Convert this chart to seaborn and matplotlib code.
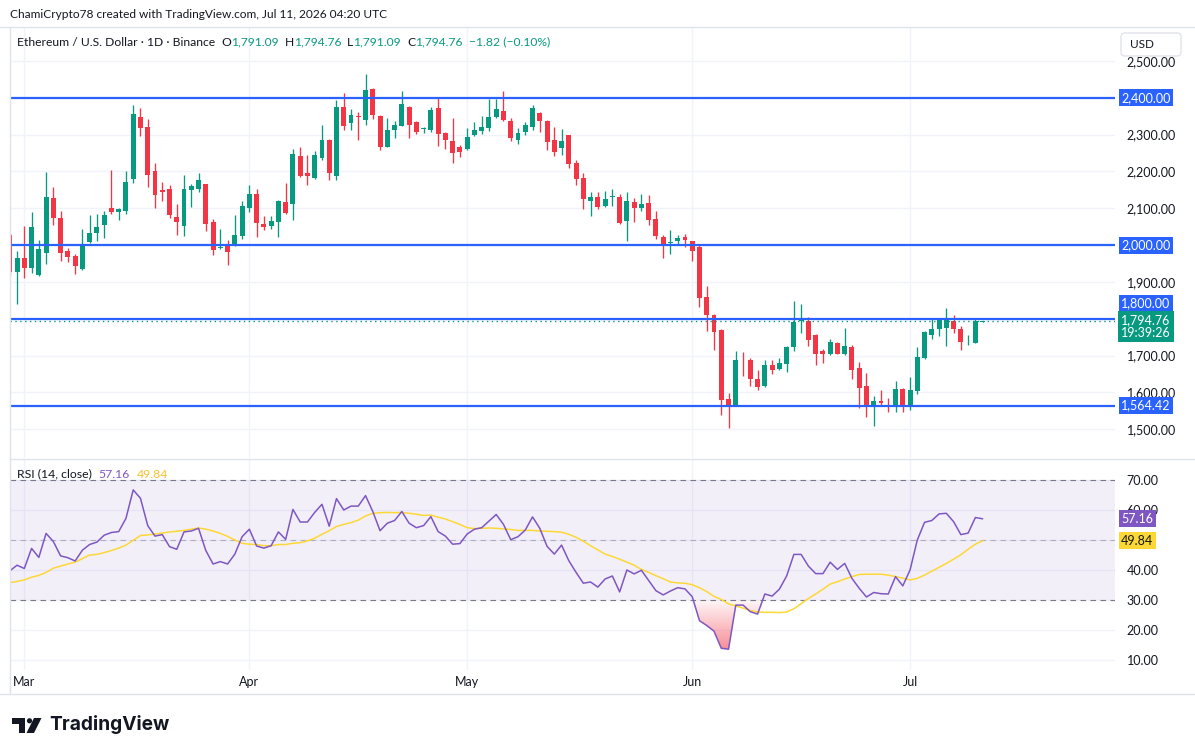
import numpy as np
import pandas as pd
import matplotlib
matplotlib.use("Agg")
import matplotlib.pyplot as plt
import matplotlib.dates as mdates
import matplotlib.transforms as mtransforms
from matplotlib.patches import FancyBboxPatch, Polygon, Rectangle, Circle, PathPatch
from matplotlib.path import Path
from matplotlib.colors import LinearSegmentedColormap
import seaborn as sns

# ---------------- data ----------------
dates = pd.date_range("2026-02-27", "2026-07-11", freq="D")

opens = [2026, 1927, 1966, 1937, 1918, 1978, 2127, 2073, 1983, 1969,
         1935, 2008, 2033, 2054, 2100, 2090, 2092, 2180, 2347, 2320,
         2200, 2149, 2151, 2075, 2052, 2150, 2152, 2165, 2062, 1992,
         1997, 2000, 2024, 2101, 2138, 2056, 2052, 2063, 2116, 2112,
         2241, 2195, 2182, 2237, 2285, 2188, 2375, 2332, 2349, 2340,
         2424, 2350, 2267, 2313, 2324, 2375, 2334, 2315, 2313, 2372,
         2304, 2282, 2266, 2261, 2299, 2310, 2318, 2348, 2364, 2337,
         2286, 2307, 2321, 2358, 2337, 2285, 2264, 2298, 2222, 2181,
         2120, 2130, 2106, 2131, 2130, 2065, 2116, 2101, 2113, 2070,
         2021, 2005, 2010, 2021, 2010, 1994, 1858, 1811, 1769, 1583,
         1566, 1689, 1689, 1637, 1618, 1675, 1664, 1678, 1722, 1794,
         1795, 1757, 1713, 1704, 1735, 1703, 1724, 1667, 1618, 1562,
         1577, 1571, 1566, 1610, 1566, 1605, 1694, 1757, 1771, 1776,
         1795, 1771, 1744, 1735, 1791.09]
highs = [2032, 1985, 2051, 2089, 2013, 2198, 2157, 2092, 1991, 1975,
         2043, 2081, 2083, 2092, 2203, 2100, 2200, 2380, 2372, 2342,
         2222, 2171, 2162, 2111, 2190, 2165, 2195, 2167, 2070, 2043,
         2015, 2081, 2119, 2162, 2151, 2078, 2078, 2122, 2168, 2260,
         2266, 2244, 2255, 2326, 2287, 2394, 2413, 2369, 2361, 2464,
         2426, 2352, 2345, 2337, 2418, 2377, 2336, 2321, 2375, 2402,
         2306, 2345, 2271, 2317, 2334, 2350, 2396, 2396, 2418, 2345,
         2317, 2334, 2380, 2360, 2339, 2320, 2315, 2300, 2230, 2195,
         2143, 2143, 2146, 2151, 2138, 2143, 2127, 2138, 2135, 2092,
         2026, 2040, 2026, 2029, 2012, 2002, 1890, 1813, 1773, 1599,
         1713, 1711, 1694, 1662, 1689, 1689, 1694, 1727, 1847, 1839,
         1806, 1759, 1719, 1746, 1738, 1776, 1730, 1683, 1654, 1591,
         1607, 1585, 1632, 1612, 1643, 1722, 1768, 1800, 1798, 1830,
         1811, 1779, 1757, 1800, 1794.76]
lows = [1920, 1839, 1910, 1924, 1916, 1948, 2054, 1956, 1954, 1921,
        1933, 2006, 2011, 2019, 2084, 2067, 2084, 2169, 2297, 2158,
        2101, 2120, 2073, 2027, 2024, 2103, 2144, 2038, 1973, 1989,
        1946, 1998, 2016, 2090, 2022, 2041, 2044, 2022, 2085, 2068,
        2184, 2163, 2180, 2231, 2177, 2177, 2313, 2313, 2286, 2326,
        2343, 2258, 2265, 2291, 2322, 2291, 2302, 2305, 2307, 2269,
        2261, 2223, 2239, 2258, 2297, 2302, 2310, 2346, 2338, 2283,
        2275, 2299, 2313, 2307, 2258, 2242, 2245, 2210, 2163, 2098,
        2079, 2098, 2104, 2106, 2058, 2011, 2063, 2093, 2054, 2016,
        1965, 1975, 2001, 1995, 1956, 1833, 1768, 1716, 1539, 1504,
        1564, 1645, 1618, 1607, 1616, 1651, 1662, 1656, 1713, 1760,
        1727, 1675, 1681, 1702, 1703, 1701, 1637, 1559, 1532, 1509,
        1562, 1548, 1548, 1548, 1551, 1597, 1692, 1746, 1752, 1727,
        1760, 1716, 1730, 1733, 1791.09]
closes = [1927, 1964, 1937, 2048, 1988, 2130, 2073, 1978, 1967, 1943,
          1999, 2034, 2048, 2081, 2089, 2097, 2171, 2356, 2318, 2190,
          2136, 2144, 2082, 2063, 2151, 2160, 2176, 2057, 1986, 1995,
          1981, 2026, 2105, 2138, 2060, 2049, 2064, 2119, 2087, 2247,
          2187, 2188, 2244, 2285, 2196, 2375, 2324, 2353, 2347, 2421,
          2354, 2267, 2312, 2326, 2383, 2326, 2307, 2319, 2366, 2302,
          2286, 2250, 2253, 2293, 2312, 2320, 2347, 2369, 2340, 2291,
          2304, 2326, 2372, 2337, 2280, 2253, 2282, 2220, 2180, 2125,
          2130, 2103, 2124, 2132, 2060, 2119, 2101, 2111, 2068, 2024,
          2002, 2009, 2018, 2014, 1983, 1855, 1809, 1765, 1580, 1566,
          1689, 1687, 1637, 1615, 1675, 1662, 1681, 1724, 1792, 1796,
          1741, 1703, 1703, 1738, 1705, 1727, 1660, 1611, 1562, 1577,
          1570, 1570, 1610, 1566, 1607, 1697, 1765, 1771, 1797, 1800,
          1773, 1738, 1746, 1795, 1794.76]

rsi = [39.8, 41.7, 40.6, 47.3, 44.3, 52.3, 49.6, 44.8, 44.2, 43.1,
       46.7, 48.6, 49.4, 51.7, 52.6, 52.9, 57.3, 66.8, 64.0, 54.9,
       51.4, 51.9, 47.9, 47.0, 52.8, 53.1, 54.0, 46.6, 42.1, 42.9,
       42.1, 45.4, 51.2, 53.7, 48.1, 47.4, 48.2, 52.8, 50.3, 60.3,
       56.1, 56.1, 59.3, 62.0, 54.7, 63.9, 60.1, 61.4, 61.4, 64.9,
       59.6, 53.2, 55.7, 56.6, 59.6, 55.7, 54.2, 54.9, 57.9, 52.9,
       51.4, 48.7, 48.9, 52.1, 53.7, 54.2, 56.4, 58.6, 55.3, 50.2,
       51.2, 53.4, 57.8, 54.0, 48.0, 45.4, 48.4, 43.2, 39.3, 35.7,
       36.1, 34.4, 37.1, 38.1, 32.8, 40.1, 38.8, 40.0, 36.6, 33.2,
       31.8, 33.1, 34.2, 33.8, 31.2, 23.2, 21.6, 19.7, 14.0, 13.7,
       28.4, 28.4, 26.2, 25.4, 32.1, 31.4, 33.7, 38.1, 45.3, 45.3,
       41.4, 38.9, 38.9, 42.7, 40.3, 42.3, 37.3, 34.0, 31.1, 32.6,
       32.2, 32.1, 37.9, 34.8, 40.1, 50.1, 56.0, 56.6, 58.8, 59.0,
       56.2, 51.9, 52.4, 57.6, 57.16]
rsi_ma = [35.9, 36.3, 36.8, 37.7, 38.3, 39.3, 40.7, 41.4, 42.1, 42.7,
          43.9, 45.1, 45.3, 45.9, 46.6, 47.4, 48.4, 50.0, 51.6, 51.8,
          52.1, 52.4, 52.8, 53.0, 53.3, 53.7, 54.1, 53.7, 53.1, 52.3,
          51.3, 50.1, 49.0, 48.7, 48.6, 48.2, 48.2, 48.6, 48.6, 49.0,
          49.2, 49.8, 50.7, 52.0, 53.2, 54.6, 55.3, 55.9, 56.7, 58.1,
          59.0, 59.2, 59.3, 59.2, 59.3, 59.0, 58.7, 58.3, 58.4, 57.7,
          57.1, 56.2, 55.3, 54.2, 53.9, 54.0, 54.1, 54.0, 53.8, 53.6,
          53.3, 53.3, 53.3, 53.1, 53.0, 52.9, 52.7, 52.0, 51.0, 49.7,
          48.2, 46.8, 45.4, 44.6, 43.7, 42.7, 41.7, 40.3, 39.3, 38.2,
          37.2, 36.1, 35.8, 35.7, 35.2, 34.2, 32.9, 31.3, 30.3, 28.8,
          28.1, 27.4, 26.6, 26.1, 26.0, 26.0, 25.9, 26.1, 27.2, 28.9,
          30.6, 32.1, 33.7, 35.4, 36.2, 37.1, 37.9, 38.6, 38.7, 38.7,
          38.7, 38.4, 37.9, 37.4, 36.8, 37.3, 38.4, 39.7, 41.0, 42.3,
          43.7, 45.2, 47.0, 48.7, 49.84]

price_ticks = [1500, 1600, 1700, 1800, 1900, 2000, 2100, 2200, 2300, 2400, 2500]
rsi_ticks = [10, 20, 30, 40, 50, 60, 70]
levels = [2400, 2000, 1800, 1564.42]
month_starts = pd.to_datetime(["2026-03-01", "2026-04-01", "2026-05-01", "2026-06-01", "2026-07-01"])
countdown = "19:39:26"
change_text = "\u22121.82 (\u22120.10%)"

# ---------------- style ----------------
GREEN = "#089981"
RED = "#F23645"
BLUE = "#2962FF"
PURPLE = "#7E57C2"
YELLOW = "#FDD835"
DARK = "#131722"
GRID = "#F0F3FA"
BORDER = "#E0E3EB"

sns.set_theme(style="white")
plt.rcParams['font.family'] = ['Lato', 'DejaVu Sans']

W, H = 1195, 755
fig = plt.figure(figsize=(W / 100, H / 100), dpi=100, facecolor="white")


def rect(x0, y0, x1, y1):
    return [x0 / W, 1 - y1 / H, (x1 - x0) / W, (y1 - y0) / H]


ax = fig.add_axes(rect(10, 28, 1115, 458))
ax2 = fig.add_axes(rect(10, 460, 1115, 670))
ov = fig.add_axes([0, 0, 1, 1])
ov.set_xlim(0, W)
ov.set_ylim(H, 0)
ov.axis("off")

x = mdates.date2num(dates)
mx = mdates.date2num(month_starts)
mar1 = mx[0]
xlim = (mar1 - 1.97, mar1 + 150.23)

o = np.array(opens, float)
h = np.array(highs, float)
l = np.array(lows, float)
c = np.array(closes, float)
up = c >= o
cols = np.where(up, GREEN, RED)

for a in (ax, ax2):
    a.set_facecolor("white")
    for s in a.spines.values():
        s.set_visible(False)

# ---------------- main price panel ----------------
ax.vlines(x, l, h, colors=cols, lw=0.95, zorder=3)
body = np.maximum(np.abs(c - o), 2.2)
ax.bar(x, body, bottom=np.minimum(o, c), width=0.68, color=cols, lw=0, zorder=4)

for lv in levels:
    ax.axhline(lv, color=BLUE, lw=1.6, zorder=5)
ax.axhline(c[-1], color=GREEN, lw=1.0, ls=(0, (1, 2.5)), zorder=5)

ax.set_xlim(*xlim)
ax.set_ylim(2400 - (458 - 97.7) / 0.3684, 2400 + (97.7 - 28) / 0.3684)
ax.set_xticks(mx)
ax.set_yticks(price_ticks)
ax.grid(True, color=GRID, lw=1.0, zorder=0)
ax.yaxis.tick_right()
# tick labels hidden where the level/last-price badges sit on top of them
hidden_price = {2400, 2000, 1800}
ax.set_yticklabels(["" if v in hidden_price else f"{v:,.2f}" for v in price_ticks])
ax.tick_params(axis="y", length=0, pad=8.5, labelsize=9, labelcolor=DARK)
ax.tick_params(axis="x", length=0, labelbottom=False)

tr = mtransforms.blended_transform_factory(ax.transAxes, ax.transData)
lx = (1121 - 10) / 1105
for lv in levels:
    t = tr
    if lv == 1800:
        t = mtransforms.offset_copy(tr, fig=fig, y=15.5, units="dots")
    ax.text(lx, lv, f"{lv:,.2f}", transform=t, ha="left", va="center", color="white",
            fontsize=9, zorder=10, clip_on=False,
            bbox=dict(boxstyle="square,pad=0.2", fc=BLUE, ec="none"))
tg = mtransforms.offset_copy(tr, fig=fig, y=-6, units="dots")
ax.text(lx, c[-1], f"{c[-1]:,.2f}\n{countdown}", transform=tg, ha="left", va="center",
        color="white", fontsize=9, zorder=10, clip_on=False, linespacing=1.15,
        bbox=dict(boxstyle="square,pad=0.22", fc=GREEN, ec="none"))

# ---------------- RSI panel ----------------
ax2.axhspan(30, 70, color=PURPLE, alpha=0.09, lw=0, zorder=1)
ax2.axhline(70, color="#787B86", lw=0.8, ls=(0, (5, 4)), zorder=2)
ax2.axhline(30, color="#787B86", lw=0.8, ls=(0, (5, 4)), zorder=2)
ax2.axhline(50, color="#787B86", lw=0.8, ls=(0, (5, 4)), alpha=0.5, zorder=2)

r = np.array(rsi, float)
coll = ax2.fill_between(x, r, 30, where=r < 30, interpolate=True, facecolor="none", edgecolor="none")
cp = Path.make_compound_path(*coll.get_paths())
clip = PathPatch(cp, transform=ax2.transData, facecolor="none", edgecolor="none")
ax2.add_patch(clip)
cmap = LinearSegmentedColormap.from_list(
    "os", [(0.949, 0.212, 0.271, 0.62), (0.949, 0.212, 0.271, 0.04)])
grad = np.linspace(0, 1, 256).reshape(-1, 1)
im = ax2.imshow(grad, extent=[x[0], x[-1], 12, 30], origin="lower", cmap=cmap,
                aspect="auto", zorder=2, interpolation="bilinear")
im.set_clip_path(clip)

sns.lineplot(x=x, y=rsi_ma, ax=ax2, color=YELLOW, lw=1.1, zorder=3)
sns.lineplot(x=x, y=rsi, ax=ax2, color=PURPLE, lw=1.1, zorder=4)
ax2.set_xlabel("")
ax2.set_ylabel("")

ax2.set_xlim(*xlim)
ax2.set_ylim(70 - (670 - 480.3) / 3, 70 + (480.3 - 460) / 3)
ax2.set_xticks(mx)
ax2.set_yticks(rsi_ticks)
ax2.grid(True, color=GRID, lw=1.0, zorder=0)
ax2.yaxis.tick_right()
ax2.set_yticklabels(["" if v == 50 else f"{v:.2f}" for v in rsi_ticks])
ax2.xaxis.set_major_formatter(mdates.DateFormatter("%b"))
ax2.tick_params(axis="y", length=0, pad=8.5, labelsize=9, labelcolor=DARK)
ax2.tick_params(axis="x", length=0, pad=4, labelsize=9, labelcolor=DARK)

tr2 = mtransforms.blended_transform_factory(ax2.transAxes, ax2.transData)
ax2.text(lx, rsi[-1], f"{rsi[-1]:.2f}", transform=tr2, ha="left", va="center", color="white",
         fontsize=9, zorder=10, clip_on=False,
         bbox=dict(boxstyle="square,pad=0.2", fc=PURPLE, ec="none"))
ax2.text(lx, rsi_ma[-1], f"{rsi_ma[-1]:.2f}", transform=tr2, ha="left", va="center", color=DARK,
         fontsize=9, zorder=10, clip_on=False,
         bbox=dict(boxstyle="square,pad=0.2", fc=YELLOW, ec="none"))

# ---------------- overlay: frame, header, legends, logo ----------------
ov.plot([0, W], [27, 27], color=BORDER, lw=1)
ov.plot([10, W], [459, 459], color=BORDER, lw=1)
ov.plot([0, W], [694, 694], color=BORDER, lw=1)
ov.plot([10, 10], [27, 694], color=BORDER, lw=1)

ov.add_patch(FancyBboxPatch((1121, 33), 60, 23, boxstyle="round,pad=0,rounding_size=4",
                            fc="white", ec=BORDER, lw=1, zorder=5))
ov.text(1142, 44.5, "USD", ha="center", va="center", fontsize=8.5, color=DARK, zorder=6)

ov.text(10, 14, "ChamiCrypto78 created with TradingView.com, Jul 11, 2026 04:20 UTC",
        ha="left", va="center", fontsize=8.6, color=DARK)

renderer = fig.canvas.get_renderer()


def segs(x0, y0, parts, fs):
    xx = x0
    for s, colr, gap in parts:
        t = ov.text(xx, y0, s, color=colr, fontsize=fs, ha="left", va="center")
        bb = t.get_window_extent(renderer=renderer)
        xx += bb.width + gap


segs(17, 42, [
    ("Ethereum / U.S. Dollar · 1D · Binance", DARK, 6),
    ("O", DARK, 0), (f"{opens[-1]:,.2f}", GREEN, 6),
    ("H", DARK, 0), (f"{highs[-1]:,.2f}", GREEN, 6),
    ("L", DARK, 0), (f"{lows[-1]:,.2f}", GREEN, 6),
    ("C", DARK, 0), (f"{closes[-1]:,.2f}", GREEN, 6),
    (change_text, GREEN, 0),
], 8.7)

segs(17, 474, [
    ("RSI (14, close)", DARK, 7),
    (f"{rsi[-1]:.2f}", PURPLE, 7),
    (f"{rsi_ma[-1]:.2f}", "#F2C230", 0),
], 8.8)

# TradingView logo
ov.add_patch(Rectangle((12.5, 718), 12.5, 5.5, fc=DARK, ec="none"))
ov.add_patch(Rectangle((19.5, 718), 5.5, 15, fc=DARK, ec="none"))
ov.add_patch(Circle((29.5, 720.8), 2.6, fc=DARK, ec="none"))
ov.add_patch(Polygon([(34, 718), (41.5, 718), (34, 733), (26.5, 733)], closed=True, fc=DARK, ec="none"))
ov.text(49, 725, "TradingView", ha="left", va="center", fontsize=13.8, fontweight="bold",
        color=DARK, family=["Inter", "DejaVu Sans"])

fig.savefig("out.png", dpi=100, facecolor="white")
